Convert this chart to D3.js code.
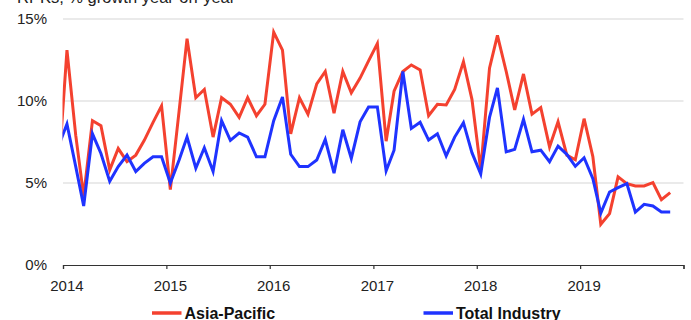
<!DOCTYPE html>
<html>
<head>
<meta charset="utf-8">
<script src="https://cdn.jsdelivr.net/npm/d3@7/dist/d3.min.js"></script>
<style>
  html, body { margin: 0; padding: 0; background: #fff; }
  svg { display: block; font-family: "Liberation Sans", Arial, sans-serif; }
</style>
</head>
<body>
<svg id="chart" width="691" height="320"></svg>
<script>
// Monthly series, Dec 2013 through Nov 2019 (year-on-year RPK growth, %)
const firstMonth = [2013, 11];   // Dec 2013 (month index is 0-based)
const lastMonth = [2019, 10];    // Nov 2019

const asiaPacific = [
  5.4,
  13.1, 7.9, 4.2, 8.8, 8.5, 5.8, 7.1, 6.3, 6.7, 7.6, 8.7, 9.7,
  4.6, 9.4, 13.8, 10.2, 10.7, 7.8, 10.2, 9.8, 9.0, 10.2, 9.1, 9.8,
  14.2, 13.1, 8.0, 10.2, 9.2, 11.05, 11.8, 9.25, 11.8, 10.5, 11.4, 12.45,
  13.5, 7.55, 10.6, 11.8, 12.2, 11.9, 9.1, 9.8, 9.76, 10.7, 12.4, 10.1,
  5.8, 12.0, 14.0, 11.8, 9.45, 11.65, 9.2, 9.6, 7.2, 8.73, 6.7, 6.42,
  8.92, 6.6, 2.48, 3.13, 5.37, 4.96, 4.82, 4.82, 5.02, 3.98, 4.41
];

const totalIndustry = [
  7.2,
  8.6, 6.0, 3.6, 8.0, 6.8, 5.1, 6.0, 6.7, 5.7, 6.2, 6.6, 6.6,
  5.0, 6.4, 7.8, 5.9, 7.15, 5.7, 8.8, 7.6, 8.05, 7.8, 6.6, 6.6,
  8.8, 10.25, 6.75, 6.0, 6.0, 6.4, 7.65, 5.6, 8.25, 6.5, 8.73, 9.64,
  9.64, 5.75, 7.0, 11.8, 8.33, 8.7, 7.62, 8.0, 6.65, 7.8, 8.68, 6.85,
  5.55, 9.0, 10.8, 6.9, 7.05, 8.88, 6.9, 7.0, 6.3, 7.25, 6.75, 6.02,
  6.54, 5.26, 3.17, 4.45, 4.72, 4.96, 3.23, 3.7, 3.6, 3.23, 3.23
];

const yTicks = [0, 5, 10, 15];
const yearTicks = [2014, 2015, 2016, 2017, 2018, 2019, 2020];
const yearLabels = ["2014", "2015", "2016", "2017", "2018", "2019"];
const seriesNames = ["Asia-Pacific", "Total Industry"];
const titleText = "RPKs, % growth year-on-year";

const colors = { "Asia-Pacific": "#f4412f", "Total Industry": "#1f33ff" };

// Each value sits at the middle of its month
const months = d3.timeMonth.range(
  new Date(firstMonth[0], firstMonth[1], 1),
  new Date(lastMonth[0], lastMonth[1] + 1, 1)
).map(d => new Date(d.getFullYear(), d.getMonth(), 15));

const series = [
  { name: seriesNames[0], values: asiaPacific },
  { name: seriesNames[1], values: totalIndustry }
];

const svg = d3.select("#chart");
const plot = { left: 63, right: 683.5, top: 19, bottom: 265 };

const x = d3.scaleTime()
  .domain([new Date(2014, 0, 1), new Date(2020, 0, 1)])
  .range([plot.left, plot.right]);
const y = d3.scaleLinear().domain([0, 15]).range([plot.bottom, plot.top]);

// Title (runs off the top edge)
svg.append("text")
  .attr("x", 17).attr("y", 2.5)
  .attr("font-size", 16.5).attr("fill", "#222")
  .text(titleText);

// Horizontal gridlines
svg.append("g")
  .selectAll("line")
  .data(yTicks.filter(v => v > 0))
  .join("line")
  .attr("x1", plot.left).attr("x2", plot.right)
  .attr("y1", d => y(d)).attr("y2", d => y(d))
  .attr("stroke", "#e3e3e3").attr("stroke-width", 1.6);

// Y tick labels
svg.append("g")
  .selectAll("text")
  .data(yTicks)
  .join("text")
  .attr("x", 47).attr("y", d => y(d))
  .attr("dy", "0.36em")
  .attr("text-anchor", "end")
  .attr("font-size", 15).attr("fill", "#222")
  .text(d => d + "%");

// X axis: baseline with yearly ticks
const xAxis = d3.axisBottom(x)
  .tickValues(yearTicks.map(yr => new Date(yr, 0, 1)))
  .tickSize(4)
  .tickFormat("");
const gx = svg.append("g")
  .attr("transform", `translate(0,${plot.bottom})`)
  .call(xAxis);
gx.select(".domain").attr("stroke", "#333").attr("stroke-width", 1.2);
gx.selectAll(".tick line").attr("stroke", "#333").attr("stroke-width", 1.2);

// Year labels, centred on mid-January
svg.append("g")
  .selectAll("text")
  .data(yearLabels)
  .join("text")
  .attr("x", d => x(new Date(+d, 0, 15)))
  .attr("y", 290.5)
  .attr("text-anchor", "middle")
  .attr("font-size", 15).attr("fill", "#222")
  .text(d => d);

// Lines, clipped to the plotting area
svg.append("clipPath").attr("id", "plotClip")
  .append("rect")
  .attr("x", plot.left - 0.5).attr("y", 0)
  .attr("width", plot.right - plot.left + 10).attr("height", 320);

const line = d3.line()
  .x((d, i) => x(months[i]))
  .y(d => y(d));

svg.append("g")
  .attr("clip-path", "url(#plotClip)")
  .selectAll("path")
  .data(series)
  .join("path")
  .attr("fill", "none")
  .attr("stroke", d => colors[d.name])
  .attr("stroke-width", 3)
  .attr("stroke-linejoin", "miter")
  .attr("d", d => line(d.values));

// Legend
const legendPos = [{ x: 152, name: seriesNames[0] }, { x: 423.5, name: seriesNames[1] }];
const lg = svg.append("g")
  .selectAll("g")
  .data(legendPos)
  .join("g")
  .attr("transform", d => `translate(${d.x},313)`);
lg.append("line")
  .attr("x1", 0).attr("x2", 29.5)
  .attr("stroke", d => colors[d.name])
  .attr("stroke-width", 3.5);
lg.append("text")
  .attr("x", 32.5).attr("y", 5.5)
  .attr("font-size", 16).attr("font-weight", "bold").attr("fill", "#111")
  .text(d => d.name);
</script>
</body>
</html>
